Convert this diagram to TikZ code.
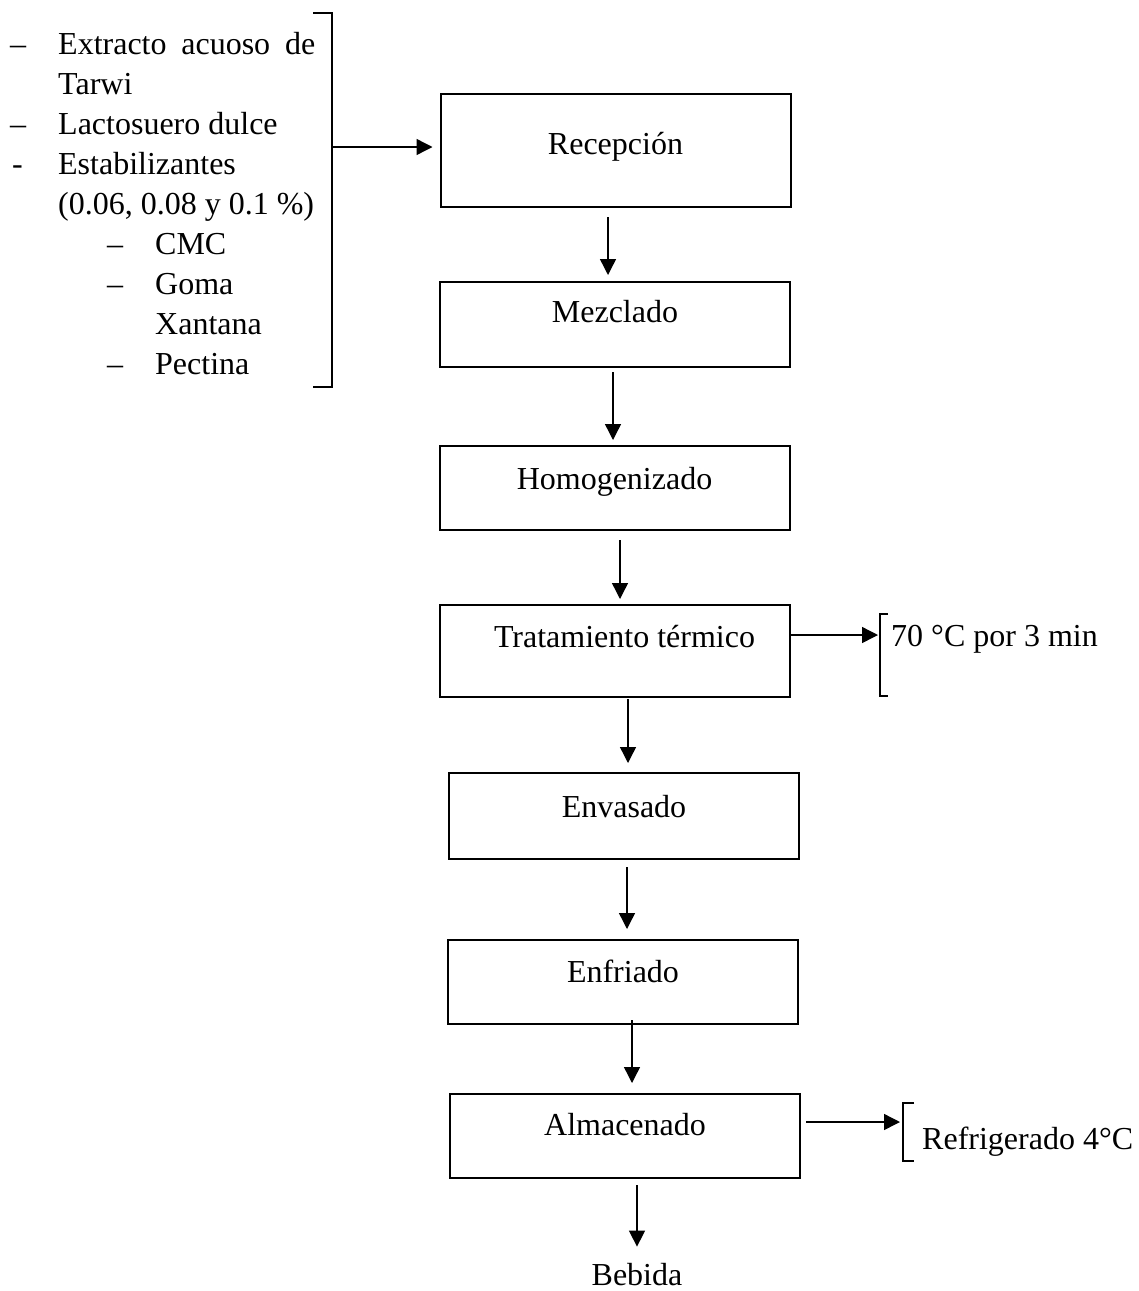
\documentclass[tikz,border=0pt]{standalone}
\usepackage{fontspec}
\setmainfont{Liberation Serif}
\usetikzlibrary{arrows.meta}
\begin{document}
\begin{tikzpicture}[x=1pt,y=-1pt,
  box/.style={draw, line width=2pt, inner xsep=0pt, inner ysep=0pt, minimum width=350pt, anchor=north, font=\fontsize{32}{38}\selectfont},
  arr/.style={line width=1.4pt, -{Triangle[length=16pt,width=16pt]}},
  brk/.style={line width=2.2pt},
  txt/.style={inner sep=0pt, anchor=base west, font=\fontsize{32}{38}\selectfont}]
\useasboundingbox (0,0) rectangle (1139,1291);

% process boxes
\node[box, text height=60pt, text depth=53pt] (rec) at (615.5,93) {Recepción};
\node[box, text height=40pt, text depth=45pt] (mez) at (615,281) {Mezclado};
\node[box, text height=43pt, text depth=41pt] (hom) at (614.5,445) {Homogenizado};
\node[box, text height=42pt, text depth=50pt] (trat) at (615,604) {\hspace*{19pt}Tratamiento térmico};
\node[box, text height=44pt, text depth=42pt] (env) at (624,772) {Envasado};
\node[box, text height=42pt, text depth=42pt] (enf) at (623,939) {Enfriado};
\node[box, text height=41pt, text depth=43pt] (alm) at (625,1093) {Almacenado};
\node[inner sep=0pt, anchor=base, font=\fontsize{32}{38}\selectfont] (beb) at (637,1285) {Bebida};

% vertical arrows
\draw[arr] ([xshift=-7.5pt,yshift=-9pt]rec.south) -- ([xshift=-7pt,yshift=6pt]mez.north);
\draw[arr] ([xshift=-2pt,yshift=-4pt]mez.south) -- ([xshift=-1.5pt,yshift=5pt]hom.north);
\draw[arr] ([xshift=5.5pt,yshift=-9pt]hom.south) -- ([xshift=5pt,yshift=5pt]trat.north);
\draw[arr] ([xshift=13pt,yshift=-1pt]trat.south) -- ([xshift=4pt,yshift=9pt]env.north);
\draw[arr] ([xshift=3pt,yshift=-7pt]env.south) -- ([xshift=4pt,yshift=10pt]enf.north);
\draw[arr] ([xshift=9pt,yshift=5pt]enf.south) -- ([xshift=7pt,yshift=10pt]alm.north);
\draw[arr] ([xshift=12pt,yshift=-6pt]alm.south) -- ([yshift=16pt]beb.north);

% left input list
\node[txt] (l1) at (10,54) {\makebox[48pt][l]{\textendash}\makebox[257pt][s]{Extracto acuoso de}};
\node[txt] (l2) at (10,94) {\hspace*{48pt}Tarwi};
\node[txt] (l3) at (10,134) {\makebox[48pt][l]{\textendash}Lactosuero dulce};
\node[txt] (l4) at (10,174) {\makebox[48pt][l]{\hspace*{2pt}-}Estabilizantes};
\node[txt] (l5) at (10,214) {\hspace*{48pt}(0.06, 0.08 y 0.1 \%)};
\node[txt] (l6) at (10,254) {\hspace*{97pt}\makebox[48pt][l]{\textendash}CMC};
\node[txt] (l7) at (10,294) {\hspace*{97pt}\makebox[48pt][l]{\textendash}Goma};
\node[txt] (l8) at (10,334) {\hspace*{145pt}Xantana};
\node[txt] (l9) at (10,374) {\hspace*{97pt}\makebox[48pt][l]{\textendash}Pectina};

% left bracket and arrow
\draw[brk] (313,13) -- (332,13) -- (332,387) -- (313,387);
\coordinate (lb) at (332,147);
\draw[arr, shorten >=7pt] (lb) -- (rec.west |- lb);

% right side conditions
\coordinate (b1) at (878,635);
\draw[arr] (trat.east |- b1) -- (b1);
\draw[brk] (888,614) -- (880,614) -- (880,696) -- (888,696);
\node[txt] (t1) at (891,646) {70 °C por 3 min};

\coordinate (b2) at (900,1122);
\draw[arr, shorten <=5pt] (alm.east |- b2) -- (b2);
\draw[brk] (914,1103) -- (903,1103) -- (903,1161) -- (914,1161);
\node[txt] (t2) at (922,1149) {Refrigerado 4°C};
\end{tikzpicture}
\end{document}
